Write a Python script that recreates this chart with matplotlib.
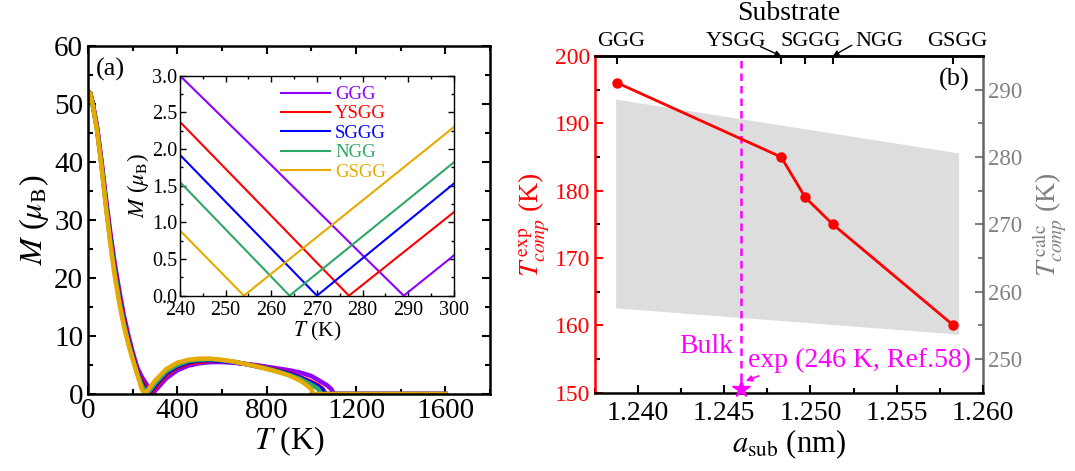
import numpy as np
import matplotlib
matplotlib.use('Agg')
import matplotlib.pyplot as plt
from matplotlib.ticker import MultipleLocator

plt.rcParams['font.family'] = 'Liberation Serif'
plt.rcParams['mathtext.fontset'] = 'stix'

# --- panel (a): M(T) per substrate ---
subs = ['GGG', 'YSGG', 'SGGG', 'NGG', 'GSGG']
colors = ['#8b00ff', '#ff0000', '#0000ff', '#2ea866', '#e6aa00']

T_ggg = [0, 10, 20, 40, 60, 80, 100, 120, 140, 160, 180, 200, 220, 240, 260, 280, 289,
         300, 350, 400, 450, 500, 550, 600, 650, 700, 750, 800, 850, 900, 950, 1000,
         1040, 1070, 1090, 1100, 1600]
M_ggg = [52.2, 51.9, 50.3, 46.2, 40.3, 33.8, 27.8, 22.4, 17.8, 13.6, 10.2, 7.2, 4.6, 3.0, 1.78, 0.55, 0.0,
         0.55, 2.7, 4.1, 4.9, 5.3, 5.5, 5.5, 5.4, 5.2, 5.0, 4.7, 4.4, 4.1, 3.7, 3.1,
         2.2, 1.5, 0.8, 0.0, 0.0]

T_ysgg = [0, 10, 20, 40, 60, 80, 100, 120, 140, 160, 180, 200, 220, 240, 260, 277,
          300, 350, 400, 450, 500, 550, 600, 650, 700, 750, 800, 850, 900, 950, 1000,
          1030, 1050, 1065, 1600]
M_ysgg = [52.2, 51.9, 50.2, 46.0, 39.9, 33.2, 27.1, 21.6, 17.0, 13.0, 9.7, 6.8, 4.2, 2.37, 1.09, 0.0,
          1.14, 3.3, 4.6, 5.3, 5.6, 5.7, 5.7, 5.5, 5.2, 4.9, 4.5, 4.1, 3.6, 2.9, 2.1,
          1.5, 0.9, 0.0, 0.0]

T_sggg = [0, 10, 20, 40, 60, 80, 100, 120, 140, 160, 180, 200, 220, 240, 260, 270,
          300, 350, 400, 450, 500, 550, 600, 650, 700, 750, 800, 850, 900, 950, 1000,
          1030, 1050, 1060, 1600]
M_sggg = [52.2, 51.8, 50.1, 45.8, 39.7, 32.9, 26.7, 21.2, 16.6, 12.6, 9.3, 6.5, 3.9, 1.92, 0.64, 0.0,
          1.53, 3.6, 4.8, 5.5, 5.8, 5.8, 5.7, 5.5, 5.2, 4.8, 4.4, 4.0, 3.5, 2.8, 1.9,
          1.3, 0.7, 0.0, 0.0]

T_ngg = [0, 10, 20, 40, 60, 80, 100, 120, 140, 160, 180, 200, 220, 240, 264,
         300, 350, 400, 450, 500, 550, 600, 650, 700, 750, 800, 850, 900, 950, 1000,
         1030, 1045, 1600]
M_ngg = [52.2, 51.8, 50.0, 45.7, 39.5, 32.6, 26.3, 20.8, 16.2, 12.2, 9.0, 6.2, 3.6, 1.55, 0.0,
         1.82, 3.9, 5.0, 5.7, 5.9, 6.0, 5.8, 5.6, 5.2, 4.8, 4.4, 3.9, 3.3, 2.6, 1.6,
         0.9, 0.0, 0.0]

T_gsgg = [0, 10, 20, 40, 60, 80, 100, 120, 140, 160, 180, 200, 220, 240, 254,
          270, 300, 350, 400, 450, 500, 550, 600, 650, 700, 750, 800, 850, 900, 950,
          980, 1000, 1008, 1600]
M_gsgg = [52.2, 51.8, 50.0, 45.5, 39.2, 32.2, 25.8, 20.2, 15.6, 11.8, 8.6, 5.9, 3.4, 0.89, 0.0,
          0.8, 2.3, 4.3, 5.4, 5.9, 6.1, 6.1, 5.9, 5.6, 5.2, 4.8, 4.3, 3.8, 3.2, 2.3,
          1.5, 0.8, 0.0, 0.0]

T_all = [T_ggg, T_ysgg, T_sggg, T_ngg, T_gsgg]
M_all = [M_ggg, M_ysgg, M_sggg, M_ngg, M_gsgg]

# --- panel (b): compensation temperature vs substrate lattice ---
a_sub = [1.2388, 1.2483, 1.2497, 1.2513, 1.2583]
T_exp = [196, 185, 179, 175, 160]
band_a = [1.2387, 1.2586]
band_top = [288.6, 280.6]
band_bot = [257.6, 253.7]
a_bulk = 1.2460
T_bulk_mark = 150.5

fig = plt.figure(figsize=(10.75, 4.71), dpi=100)

# ---------------- panel (a) ----------------
ax = fig.add_axes([0.0819, 0.1635, 0.374, 0.7389])
for T, M, c in zip(T_all, M_all, colors):
    ax.plot(T, M, color=c, lw=3.2, solid_joinstyle='round')
ax.set_xlim(0, 1800)
ax.set_ylim(0, 60)
ax.xaxis.set_major_locator(MultipleLocator(400))
ax.xaxis.set_minor_locator(MultipleLocator(200))
ax.yaxis.set_major_locator(MultipleLocator(10))
ax.yaxis.set_minor_locator(MultipleLocator(5))
ax.tick_params(which='both', direction='in', top=True, right=True, width=1.5, labelsize=21)
ax.tick_params(which='major', length=6)
ax.tick_params(which='minor', length=3.5)
ax.tick_params(axis='x', pad=3)
for s in ax.spines.values():
    s.set_linewidth(1.8)
ax.set_xlabel(r'$T$ (K)', fontsize=23, labelpad=0)
ax.set_ylabel(r'$M$ ($\mu_{\rm B}$)', fontsize=23, labelpad=2)
ax.text(0.02, 0.965, '(a)', transform=ax.transAxes, ha='left', va='top', fontsize=19)

# inset
ins = fig.add_axes([0.1674, 0.3722, 0.2549, 0.4671])
for T, M, c, lab in zip(T_all, M_all, colors, subs):
    ins.plot(T, M, color=c, lw=1.5, label=lab)
ins.set_xlim(240, 300)
ins.set_ylim(0, 3)
ins.xaxis.set_major_locator(MultipleLocator(10))
ins.xaxis.set_minor_locator(MultipleLocator(5))
ins.yaxis.set_major_locator(MultipleLocator(0.5))
ins.yaxis.set_minor_locator(MultipleLocator(0.25))
ins.tick_params(which='both', direction='in', top=True, right=True, width=1.0, labelsize=14.5)
ins.tick_params(which='major', length=4)
ins.tick_params(which='minor', length=2.5)
ins.tick_params(axis='x', pad=4)
ins.tick_params(axis='y', pad=2)
for s in ins.spines.values():
    s.set_linewidth(1.0)
ins.set_xlabel(r'$T$ (K)', fontsize=15.5, labelpad=0)
ins.set_ylabel(r'$M$ ($\mu_{\rm B}$)', fontsize=16.5, labelpad=1)
leg = ins.legend(loc='upper center', bbox_to_anchor=(0.56, 1.03), frameon=False, fontsize=13.5,
                 handlelength=2.6, handletextpad=0.3, labelspacing=0.12, labelcolor='linecolor')

# ---------------- panel (b) ----------------
axb = fig.add_axes([0.5535, 0.1662, 0.3607, 0.7149])
axr = axb.twinx()
axr.fill_between(band_a, band_bot, band_top, color='#dddddd', lw=0, zorder=1)
axr.set_ylim(245, 295)
axb.set_zorder(axr.get_zorder() + 1)
axb.patch.set_visible(False)

axb.plot(a_sub, T_exp, color='red', lw=2, marker='o', ms=6.5, zorder=3)
axb.axvline(a_bulk, color='#ff00ff', lw=1.8, ls=(0, (3, 2)), zorder=2)
axb.plot([a_bulk], [T_bulk_mark], marker='*', color='#ff00ff', ms=13, clip_on=False, zorder=4)
axb.text(1.24552, 155.9, 'Bulk', color='#ff00ff', fontsize=20, ha='right', va='baseline')
axb.annotate('exp (246 K, Ref.58)', xy=(1.2461, 151.6), xytext=(1.24639, 153.8),
             color='#ff00ff', fontsize=20, ha='left', va='baseline',
             arrowprops=dict(arrowstyle='-|>', color='#ff00ff', lw=1.2,
                             shrinkA=0, shrinkB=2, mutation_scale=9,
                             relpos=(0.08, 0.0)))

axb.set_xlim(1.2375, 1.260)
axb.set_ylim(150, 200)
axb.xaxis.set_major_locator(MultipleLocator(0.005))
axb.xaxis.set_minor_locator(MultipleLocator(0.0025))
axb.yaxis.set_major_locator(MultipleLocator(10))
axb.yaxis.set_minor_locator(MultipleLocator(5))
axb.xaxis.set_major_formatter(plt.FormatStrFormatter('%.3f'))
axb.tick_params(which='both', direction='in', width=1.5)
axb.tick_params(which='major', length=6)
axb.tick_params(which='minor', length=3.5)
axb.tick_params(axis='x', labelsize=20, pad=6)
axb.tick_params(axis='y', colors='red', labelsize=17)
axb.spines['left'].set_color('red')
for s in axb.spines.values():
    s.set_linewidth(1.8)
axb.spines['right'].set_visible(False)
axb.set_xlabel(r'$a_{\rm sub}$ (nm)', fontsize=22, labelpad=1)
axb.set_ylabel(r'$T_{comp}^{\,\rm exp}$ (K)', fontsize=20, color='red', labelpad=2)

gray = '#808080'
axr.yaxis.set_major_locator(MultipleLocator(10))
axr.yaxis.set_minor_locator(MultipleLocator(5))
axr.tick_params(which='both', direction='in', width=1.5, colors=gray, labelsize=16.5)
axr.tick_params(which='major', length=6)
axr.tick_params(which='minor', length=3.5)
axr.spines['right'].set_color('#666666')
axr.spines['right'].set_linewidth(1.8)
for k in ['left', 'top', 'bottom']:
    axr.spines[k].set_visible(False)
axr.set_ylabel(r'$T_{comp}^{\,\rm calc}$ (K)', fontsize=20, color=gray, labelpad=6)

# top substrate axis
top = axb.secondary_xaxis('top')
top.set_xticks(a_sub)
top.set_xticklabels([])
top.tick_params(direction='in', length=6, width=1.5)
top.spines['top'].set_linewidth(1.8)

tr = axb.get_xaxis_transform()
axb.text(1.2390, 1.03, 'GGG', transform=tr, ha='center', va='baseline', fontsize=16)
axb.text(1.2457, 1.03, 'YSGG', transform=tr, ha='center', va='baseline', fontsize=16)
axb.text(1.2500, 1.03, 'SGGG', transform=tr, ha='center', va='baseline', fontsize=16)
axb.text(1.2540, 1.03, 'NGG', transform=tr, ha='center', va='baseline', fontsize=16)
axb.text(1.2585, 1.03, 'GSGG', transform=tr, ha='center', va='baseline', fontsize=16)
axb.annotate('', xy=(a_sub[1], 1.0), xytext=(1.2471, 1.028), xycoords=tr, textcoords=tr,
             arrowprops=dict(arrowstyle='-|>', color='black', lw=1.0, mutation_scale=8,
                             shrinkA=0, shrinkB=0))
axb.annotate('', xy=(a_sub[3], 1.0), xytext=(1.2524, 1.032), xycoords=tr, textcoords=tr,
             arrowprops=dict(arrowstyle='-|>', color='black', lw=1.0, mutation_scale=8,
                             shrinkA=0, shrinkB=0))
axb.text(0.5, 1.108, 'Substrate', transform=axb.transAxes, ha='center', va='baseline', fontsize=20)
axb.text(0.965, 0.965, '(b)', transform=axb.transAxes, ha='right', va='top', fontsize=19)

fig.savefig('out.png', dpi=100)
